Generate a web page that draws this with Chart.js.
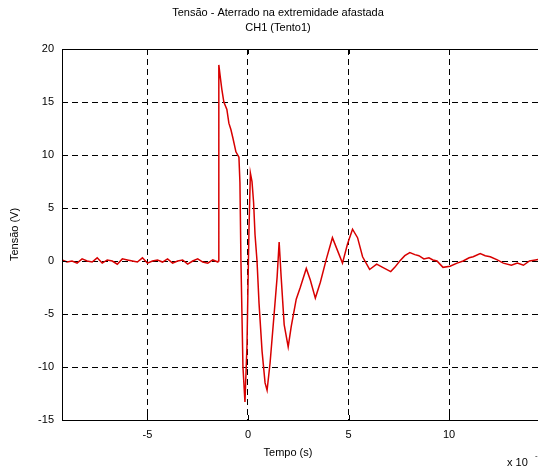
<!DOCTYPE html>
<html>
<head>
<meta charset="utf-8">
<script src="https://cdn.jsdelivr.net/npm/chart.js@4"></script>
<style>
  html, body { margin: 0; padding: 0; background: #fff; overflow: hidden; }
  #frame { width: 538px; height: 470px; overflow: hidden; }
  #box { width: 576px; height: 470px; }
</style>
</head>
<body>
<div id="frame"><div id="box"><canvas id="voltChart"></canvas></div></div>
<script>
// time axis (x 10^-6 s) and voltage samples
const timeVals = [
  -9.25, -9.0, -8.75, -8.5, -8.25, -8.0, -7.75, -7.5, -7.25, -7.0, -6.75, -6.5,
  -6.25, -6.0, -5.75, -5.5, -5.25, -5.0, -4.75, -4.5, -4.25, -4.0, -3.75, -3.5,
  -3.25, -3.0, -2.75, -2.5, -2.25, -2.0, -1.75, -1.5, -1.47,
  -1.45, -1.38, -1.3, -1.2, -1.05, -0.95, -0.85, -0.75, -0.6, -0.45, -0.4,
  -0.35, -0.25, -0.15, -0.05, 0.05, 0.12, 0.2, 0.28, 0.35, 0.45, 0.55, 0.7,
  0.85, 0.95, 1.1, 1.3, 1.45, 1.55, 1.65, 1.8, 2.0, 2.15, 2.4, 2.6, 2.9,
  3.1, 3.35, 3.6, 3.9, 4.2, 4.45, 4.7, 4.95, 5.2, 5.45, 5.7, 6.05, 6.4,
  6.7, 7.1, 7.3, 7.55, 7.8, 8.05, 8.3, 8.5, 8.75, 9.0, 9.2, 9.4, 9.7,
  10.05, 10.4, 10.7, 11.0, 11.2, 11.55, 11.8, 12.05, 12.4, 12.7, 13.1,
  13.4, 13.7, 14.0, 14.3, 14.6, 15.0, 15.3
];
const voltVals = [
  0.1, -0.1, 0.0, -0.2, 0.2, 0.0, -0.1, 0.3, -0.2, 0.1, 0.0, -0.3,
  0.2, 0.1, 0.0, -0.1, 0.3, -0.2, 0.0, 0.1, -0.1, 0.2, -0.2, 0.0,
  0.1, -0.3, 0.0, 0.2, -0.1, -0.2, 0.1, -0.1, 0.0,
  18.5, 17.4, 16.2, 15.0, 14.3, 13.0, 12.4, 11.6, 10.3, 9.8, 7.4,
  0.0, -10.0, -13.3, -8.0, 3.0, 8.3, 7.5, 5.5, 2.5, 0.0, -4.0, -8.5,
  -11.5, -12.2, -9.6, -5.0, -1.5, 1.8, -1.5, -6.0, -8.1, -6.2, -3.6, -2.5, -0.7,
  -1.8, -3.5, -2.0, 0.2, 2.2, 1.0, -0.2, 1.6, 3.0, 2.2, 0.4, -0.8, -0.3,
  -0.6, -1.0, -0.6, 0.0, 0.5, 0.8, 0.6, 0.5, 0.2, 0.3, 0.1, 0.0, -0.6,
  -0.5, -0.2, 0.0, 0.3, 0.4, 0.7, 0.5, 0.4, 0.1, -0.2, -0.4,
  -0.2, -0.4, 0.0, 0.1, 0.2, 0.0, 0.1
];
const xTicks = [-5, 0, 5, 10, 15];
const yTicks = [-15, -10, -5, 0, 5, 10, 15, 20];

const points = timeVals.map((t, i) => ({ x: t, y: voltVals[i] }));
const FONT = { family: '"Liberation Sans", Arial, sans-serif', size: 11 };

// box round the plot, inner tick marks, x label and exponent
const matlabBox = {
  id: 'matlabBox',
  afterDraw(chart) {
    const c = chart.ctx, a = chart.chartArea;
    const xs = chart.scales.x, ys = chart.scales.y;
    c.save();
    c.strokeStyle = '#000';
    c.lineWidth = 1;
    c.strokeRect(a.left + 0.5, a.top + 0.5, a.right - a.left, a.bottom - a.top);
    c.beginPath();
    xTicks.forEach(v => {
      const px = Math.round(xs.getPixelForValue(v)) + 0.5;
      c.moveTo(px, a.bottom); c.lineTo(px, a.bottom - 5);
      c.moveTo(px, a.top); c.lineTo(px, a.top + 5);
    });
    yTicks.forEach(v => {
      const py = Math.round(ys.getPixelForValue(v)) + 0.5;
      c.moveTo(a.left, py); c.lineTo(a.left + 5, py);
      c.moveTo(a.right, py); c.lineTo(a.right - 5, py);
    });
    c.stroke();
    c.fillStyle = '#000';
    c.font = '11px "Liberation Sans", Arial, sans-serif';
    c.textAlign = 'center';
    c.textBaseline = 'middle';
    c.fillText('Tempo (s)', 288, 453);
    c.textAlign = 'left';
    c.fillText('x 10', 507, 463);
    c.font = '8px "Liberation Sans", Arial, sans-serif';
    c.fillText('-6', 535, 456);
    c.restore();
  }
};

new Chart(document.getElementById('voltChart'), {
  type: 'line',
  data: {
    datasets: [{
      data: points,
      borderColor: '#d80000',
      borderWidth: 1.5,
      pointRadius: 0,
      tension: 0,
      fill: false
    }]
  },
  options: {
    responsive: true,
    maintainAspectRatio: false,
    animation: false,
    layout: { padding: { left: 0, right: 20, top: 0, bottom: 0 } },
    plugins: {
      legend: { display: false },
      tooltip: { enabled: false },
      title: {
        display: true,
        text: ['Tensão - Aterrado na extremidade afastada', 'CH1 (Tento1)'],
        color: '#000',
        font: { family: FONT.family, size: 11, weight: 'normal', lineHeight: 1.35 },
        padding: { top: 6, bottom: 13.3 }
      }
    },
    scales: {
      x: {
        type: 'linear',
        min: -9.25,
        max: 15.32,
        afterBuildTicks: axis => { axis.ticks = xTicks.map(v => ({ value: v })); },
        afterFit: axis => { axis.height = 50; },
        grid: { color: '#000', lineWidth: 1, drawTicks: false },
        border: { display: false, dash: [6, 4] },
        ticks: { color: '#000', font: FONT, padding: 8, maxRotation: 0 }
      },
      y: {
        min: -15,
        max: 20,
        afterBuildTicks: axis => { axis.ticks = yTicks.map(v => ({ value: v })); },
        afterFit: axis => { axis.width = 62; },
        grid: { color: '#000', lineWidth: 1, drawTicks: false },
        border: { display: false, dash: [6, 4] },
        ticks: { color: '#000', font: FONT, padding: 8 },
        title: {
          display: true,
          text: 'Tensão (V)',
          color: '#000',
          font: FONT,
          padding: { top: 8, bottom: 0 }
        }
      }
    }
  },
  plugins: [matlabBox]
});
</script>
</body>
</html>
